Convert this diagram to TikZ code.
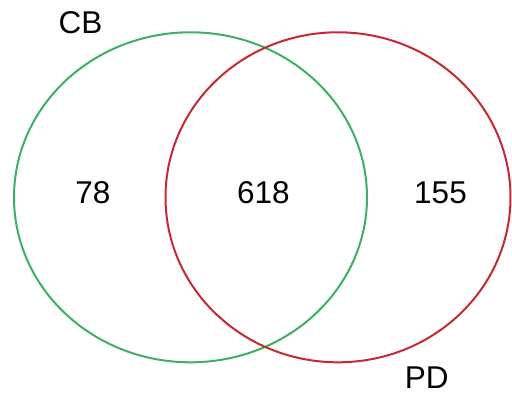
\documentclass[tikz,border=0pt]{standalone}
\usepackage{fontspec}
\setmainfont{Liberation Sans}
\definecolor{vgreen}{RGB}{60,176,100}
\definecolor{vred}{RGB}{200,40,50}
\begin{document}
\begin{tikzpicture}[x=1pt,y=-1pt,
  lbl/.style={inner sep=0pt,font=\fontsize{31.5}{31.5}\selectfont},
  setline/.style={line width=2pt}]
\useasboundingbox (0,0) rectangle (512,396);
\draw[setline,vgreen] (190.5,197.3) ellipse [x radius=176.5, y radius=165];
\draw[setline,vred] (338,197.3) ellipse [x radius=172.5, y radius=165];
\node[lbl] (cb) at (80.5,23) {CB};
\node[lbl] (pd) at (426.7,377.5) {PD};
\node[lbl] (a) at (93,192.6) {78};
\node[lbl] (ab) at (263.3,192.8) {618};
\node[lbl] (b) at (440.5,193) {155};
\end{tikzpicture}
\end{document}
